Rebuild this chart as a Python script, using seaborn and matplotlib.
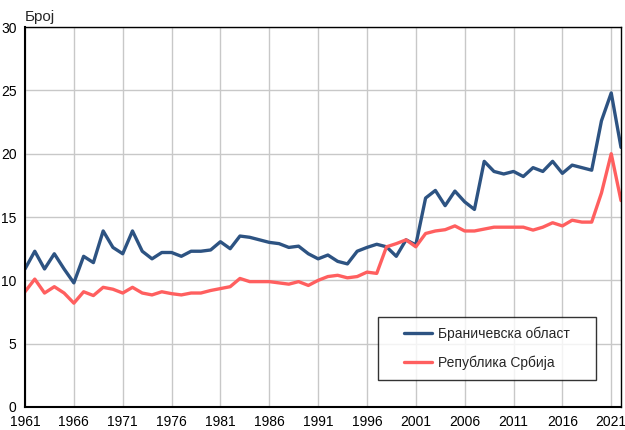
import numpy as np
import pandas as pd
import matplotlib
matplotlib.use('Agg')
import matplotlib.pyplot as plt
from matplotlib.path import Path
import seaborn as sns

years = list(range(1961, 2023))

branicevo = [10.9, 12.3, 10.9, 12.1, 10.9, 9.8, 11.9, 11.4, 13.9, 12.6,
             12.1, 13.9, 12.3, 11.7, 12.2, 12.2, 11.9, 12.3, 12.3, 12.4,
             13.05, 12.5, 13.5, 13.4, 13.2, 13.0, 12.9, 12.6, 12.7, 12.1,
             11.7, 12.0, 11.5, 11.3, 12.3, 12.6, 12.85, 12.65, 11.9, 13.2,
             12.8, 16.5, 17.1, 15.9, 17.05, 16.2, 15.6, 19.4, 18.6, 18.4,
             18.6, 18.2, 18.9, 18.6, 19.4, 18.45, 19.1, 18.9, 18.7, 22.6,
             24.8, 20.5]

serbia = [9.1, 10.1, 9.0, 9.5, 9.0, 8.2, 9.1, 8.8, 9.45, 9.3,
          9.0, 9.45, 9.0, 8.85, 9.1, 8.95, 8.85, 9.0, 9.0, 9.2,
          9.35, 9.5, 10.15, 9.9, 9.9, 9.9, 9.8, 9.7, 9.9, 9.6,
          10.0, 10.3, 10.4, 10.2, 10.3, 10.65, 10.55, 12.65, 12.9, 13.2,
          12.65, 13.7, 13.9, 14.0, 14.3, 13.9, 13.9, 14.05, 14.2, 14.2,
          14.2, 14.2, 13.97, 14.2, 14.55, 14.3, 14.75, 14.6, 14.6, 16.9,
          20.0, 16.3]

series_names = ['Браничевска област', 'Република Србија']
colors = ['#2d5382', '#ff5f5f']

df = pd.DataFrame({
    'year': years * 2,
    'value': branicevo + serbia,
    'region': [series_names[0]] * len(years) + [series_names[1]] * len(years),
})

sns.set_style('white')
plt.rcParams['font.family'] = ['Liberation Sans', 'DejaVu Sans']

fig = plt.figure(figsize=(6.25, 4.3), dpi=100)
ax = fig.add_axes([0.04, 0.0535, 0.9536, 0.8835])

sns.lineplot(data=df, x='year', y='value', hue='region', palette=colors,
             linewidth=2.4, ax=ax, legend=True)

ax.set_xlim(1961, 2022)
ax.set_ylim(0, 30)
ax.set_xticks(range(1961, 2022, 5))
ax.set_yticks(range(0, 31, 5))
ax.grid(True, color='#c8c8c8', linewidth=1.0)
ax.set_axisbelow(True)
for s in ax.spines.values():
    s.set_color('black')
    s.set_linewidth(1.0)
ax.spines['left'].set_linewidth(1.5)
ax.spines['bottom'].set_linewidth(1.5)
ax.tick_params(axis='both', labelsize=10, length=0, pad=6, colors='black')
ax.set_xlabel('')
ax.set_ylabel('')

fig.text(0.04, 0.945, 'Број', fontsize=11, ha='left', va='bottom')


# legend frame with extra horizontal padding
def wide_box(x0, y0, width, height, mutation_size):
    padx = 1.17 * mutation_size
    return Path([(x0 - padx, y0), (x0 + width + padx, y0),
                 (x0 + width + padx, y0 + height), (x0 - padx, y0 + height),
                 (x0 - padx, y0)], closed=True)


leg = ax.legend(loc='lower right', bbox_to_anchor=(0.931, 0.071), frameon=True,
                fontsize=10, handlelength=2.0, borderpad=0.7, labelspacing=1.08,
                handletextpad=0.45, borderaxespad=0, fancybox=False)
leg.get_frame().set_boxstyle(wide_box)
leg.get_frame().set_edgecolor('black')
leg.get_frame().set_linewidth(1.0)
for line in leg.get_lines():
    line.set_linewidth(2.4)

fig.savefig('out.png', dpi=100)
